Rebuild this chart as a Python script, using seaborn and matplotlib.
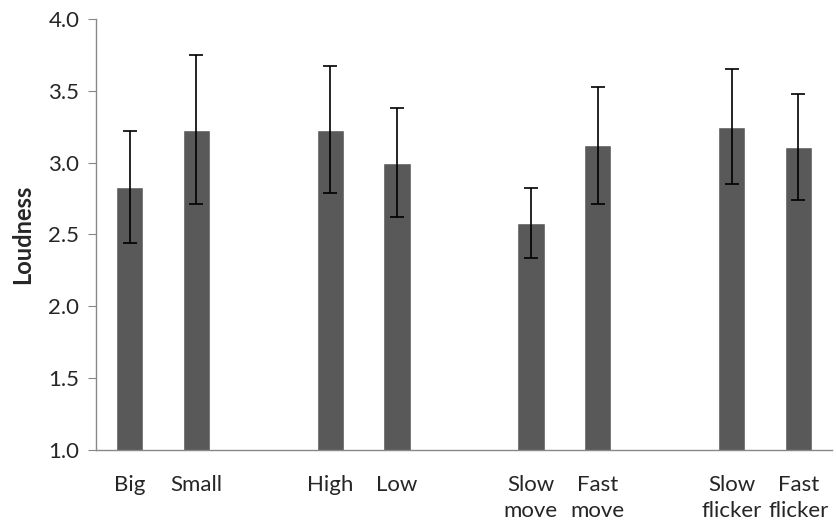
import pandas as pd
import seaborn as sns
import matplotlib.pyplot as plt

# values
conditions = ["Big", "Small", "High", "Low", "Slow move", "Fast move",
              "Slow flicker", "Fast flicker"]
loudness = [2.83, 3.23, 3.23, 3.00, 2.58, 3.12, 3.25, 3.11]
err = [0.39, 0.52, 0.44, 0.38, 0.245, 0.41, 0.40, 0.37]
tick_labels = ["Big", "Small", "High", "Low", "Slow\nmove", "Fast\nmove",
               "Slow\nflicker", "Fast\nflicker"]

# empty slots between the groups
order = ["Big", "Small", "gap1", "High", "Low", "gap2", "Slow move",
         "Fast move", "gap3", "Slow flicker", "Fast flicker"]

df = pd.DataFrame({"condition": conditions, "loudness": loudness})

sns.set_style("white")
plt.rcParams['font.family'] = ['Lato', 'DejaVu Sans']

fig = plt.figure(figsize=(8.36, 5.28), dpi=100)
ax = fig.add_axes([0.115, 0.148, 0.88, 0.816])

sns.barplot(data=df, x="condition", y="loudness", order=order,
            color="#595959", saturation=1, width=0.41, errorbar=None, ax=ax)

xpos = [order.index(c) for c in conditions]
ax.errorbar(xpos, loudness, yerr=err, fmt="none", ecolor="black",
            elinewidth=1.2, capsize=5, capthick=1.2)

ax.set_ylim(1.0, 4.0)
ax.set_yticks([1.0, 1.5, 2.0, 2.5, 3.0, 3.5, 4.0])
ax.set_yticklabels(["1.0", "1.5", "2.0", "2.5", "3.0", "3.5", "4.0"])
ax.set_xlim(-0.5, len(order) - 0.5)

# labels at the bars, tick marks between the slots
ax.set_xticks(xpos)
ax.set_xticklabels(tick_labels, linespacing=1.4)
ax.set_xticks([i - 0.5 for i in range(len(order) + 1)], minor=True)
ax.tick_params(axis="x", which="major", length=0, labelsize=16, pad=18)
ax.tick_params(axis="x", which="minor", length=6, color="#888888", direction="out")
ax.tick_params(axis="y", length=6, color="#888888", direction="out",
               labelsize=16, pad=6, left=True)

ax.set_xlabel("")
ax.set_ylabel("Loudness", fontsize=17, fontweight="bold", labelpad=10)

for side in ["top", "right"]:
    ax.spines[side].set_visible(False)
for side in ["left", "bottom"]:
    ax.spines[side].set_color("#888888")
    ax.spines[side].set_linewidth(1)

fig.savefig("out.png", dpi=100)
